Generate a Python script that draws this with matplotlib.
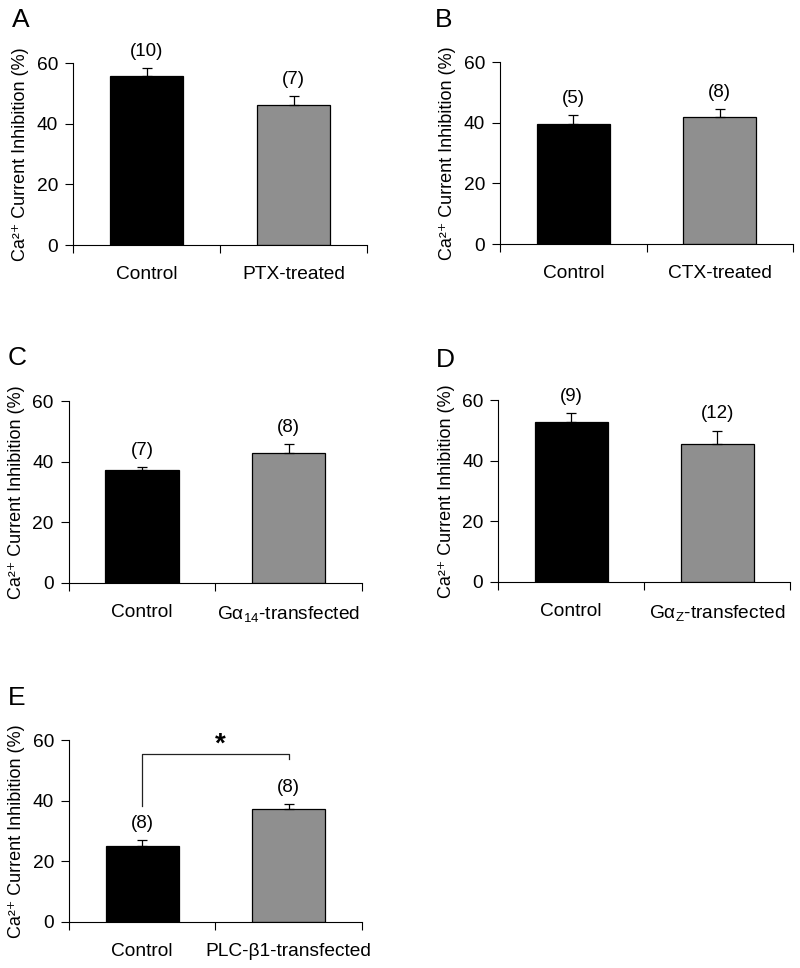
import numpy as np
import matplotlib
matplotlib.use('Agg')
import matplotlib.pyplot as plt

plt.rcParams['font.family'] = ['Liberation Sans', 'DejaVu Sans']
plt.rcParams['mathtext.fontset'] = 'custom'
plt.rcParams['mathtext.rm'] = 'Liberation Sans'
plt.rcParams['mathtext.it'] = 'Liberation Sans:italic'

#------- data -------
panel_letters = ['A', 'B', 'C', 'D', 'E']
groups_A = ['Control', 'PTX-treated']
groups_B = ['Control', 'CTX-treated']
groups_C = ['Control', 'G\u03b1$_{14}$-transfected']
groups_D = ['Control', 'G\u03b1$_{\\mathrm{Z}}$-transfected']
groups_E = ['Control', 'PLC-\u03b21-transfected']

mean_A = [55.7, 46.2]
mean_B = [39.7, 42.0]
mean_C = [37.3, 43.0]
mean_D = [52.9, 45.7]
mean_E = [25.1, 37.2]

sem_A = [2.7, 2.8]
sem_B = [2.8, 2.5]
sem_C = [1.0, 2.8]
sem_D = [2.8, 4.3]
sem_E = [1.8, 1.6]

n_A = [10, 7]
n_B = [5, 8]
n_C = [7, 8]
n_D = [9, 12]
n_E = [8, 8]

yticks = [0, 20, 40, 60]
ylabel = 'Ca\u00b2\u207a Current Inhibition (%)'

# significance bracket in E: left leg bottom, top, right leg bottom
sig_E = [38.3, 55.4, 53.9]

groups = [groups_A, groups_B, groups_C, groups_D, groups_E]
means = [mean_A, mean_B, mean_C, mean_D, mean_E]
sems = [sem_A, sem_B, sem_C, sem_D, sem_E]
ns = [n_A, n_B, n_C, n_D, n_E]

#------- layout (figure fractions) -------
fig = plt.figure(figsize=(8, 9.68), dpi=100)
rects = [[0.0913, 0.7469, 0.3675, 0.1880],
         [0.6250, 0.7479, 0.3663, 0.1877],
         [0.0859, 0.3980, 0.3663, 0.1873],
         [0.6229, 0.3988, 0.3646, 0.1877],
         [0.0863, 0.0478, 0.3659, 0.1877]]
letter_pos = [(0.015, 0.972), (0.544, 0.972), (0.009, 0.623),
              (0.545, 0.621), (0.010, 0.272)]
bar_colors = ['#000000', '#8f8f8f']

for i in range(5):
    ax = fig.add_axes(rects[i])
    x = np.array([0.5, 1.5])
    ax.bar(x, means[i], width=0.5, color=bar_colors, edgecolor='black',
           linewidth=0.9, zorder=2)
    ax.errorbar(x, means[i], yerr=[np.zeros(2), sems[i]], fmt='none',
                ecolor='black', elinewidth=0.9, capsize=3.5, capthick=0.9,
                zorder=3)
    # n labels
    for j in range(2):
        ax.annotate('(%d)' % ns[i][j], (x[j], means[i][j] + sems[i][j]),
                    xytext=(0, 6), textcoords='offset points',
                    ha='center', va='bottom', fontsize=13.5)
    ax.set_xlim(0, 2)
    ax.set_ylim(0, 60)
    ax.set_xticks([0, 1, 2])
    ax.set_xticklabels([])
    ax.set_xticks(x, minor=True)
    ax.set_xticklabels(groups[i], minor=True, fontsize=13.8)
    ax.tick_params(axis='x', which='major', direction='out', length=5.5,
                   width=0.8)
    ax.tick_params(axis='x', which='minor', length=0, pad=15)
    ax.set_yticks(yticks)
    ax.tick_params(axis='y', direction='out', length=5.8, width=0.8, pad=5,
                   labelsize=13.8)
    for s in ['top', 'right']:
        ax.spines[s].set_visible(False)
    for s in ['left', 'bottom']:
        ax.spines[s].set_linewidth(0.8)
    ax.set_ylabel(ylabel, fontsize=13)
    ax.yaxis.set_label_coords(-0.15, 0.5)
    fig.text(letter_pos[i][0], letter_pos[i][1], panel_letters[i],
             fontsize=19, va='baseline', ha='left')
    # significance bracket for E
    if panel_letters[i] == 'E':
        ax.plot([x[0], x[0], x[1], x[1]],
                [sig_E[0], sig_E[1], sig_E[1], sig_E[2]],
                color='#222222', linewidth=0.9, clip_on=False)
        ax.text(1.03, sig_E[1] + 3, '*', ha='center', va='center',
                fontsize=20, fontweight='bold')

fig.savefig('out.png', dpi=100)
